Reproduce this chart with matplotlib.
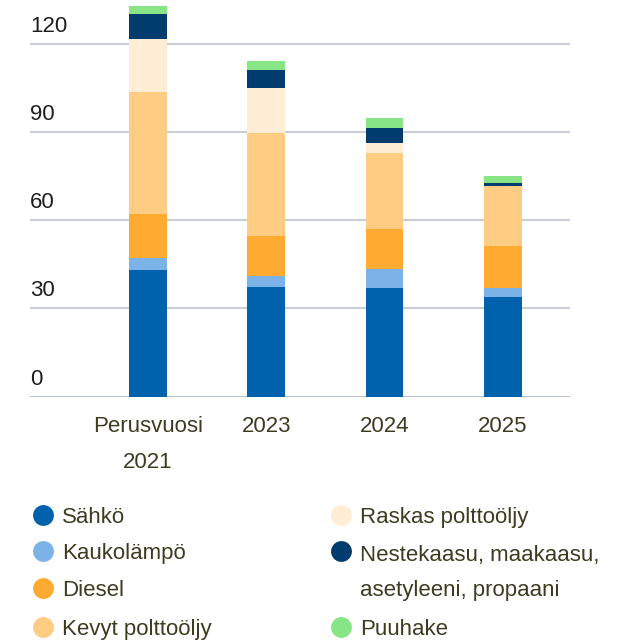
import matplotlib
matplotlib.use("Agg")
import matplotlib.pyplot as plt
from matplotlib.lines import Line2D
from matplotlib.transforms import offset_copy, blended_transform_factory
import numpy as np

plt.rcParams['font.family'] = ['Liberation Sans Narrow', 'Liberation Sans', 'DejaVu Sans']

categories = ["Perusvuosi\n2021", "2023", "2024", "2025"]
series_names = ["Sähkö", "Kaukolämpö", "Diesel", "Kevyt polttoöljy",
                "Raskas polttoöljy", "Nestekaasu, maakaasu,\nasetyleeni, propaani", "Puuhake"]
sahko = [43.0, 37.3, 36.9, 33.9]
kaukolampo = [4.2, 3.7, 6.5, 3.1]
diesel = [14.9, 13.6, 13.6, 14.2]
kevyt = [41.4, 35.0, 25.8, 20.4]
raskas = [18.0, 15.3, 3.4, 0.0]
nestekaasu = [8.5, 6.0, 5.1, 1.0]
puuhake = [2.7, 3.0, 3.4, 2.4]
yticks = [0, 30, 60, 90, 120]

series = [sahko, kaukolampo, diesel, kevyt, raskas, nestekaasu, puuhake]
colors = ["#0062AD", "#7BB3E8", "#FFAA30", "#FFCC84", "#FFEDD5", "#003C6E", "#88E586"]

FS = 16
W, H = 628, 640
fig = plt.figure(figsize=(W / 100, H / 100), dpi=100)
y0_px = 396.7
px_per_unit = 88.3 / 30
ymax = 134
top_px = y0_px - ymax * px_per_unit
ax = fig.add_axes([30 / W, (H - y0_px) / H, 540 / W, (y0_px - top_px) / H])

x = np.arange(len(categories))
bottom = np.zeros(len(categories))
for vals, c in zip(series, colors):
    vals = np.array(vals)
    ax.bar(x, vals, bottom=bottom, width=0.32, color=c, linewidth=0, zorder=3)
    bottom += vals

ax.set_xlim(-1.0, 3.57)
ax.set_ylim(0, ymax)
for s in ax.spines.values():
    s.set_visible(False)
for t in yticks:
    ax.axhline(t, color="#C9CED5" if t else "#B9C1C9", linewidth=1.5, zorder=1)

ax.set_yticks([])
trans = offset_copy(blended_transform_factory(ax.transAxes, ax.transData), fig=fig, x=0, y=12 * 0.72, units='points')
for t in yticks:
    ax.text(0, t, str(t), transform=trans, ha='left', va='baseline', fontsize=FS, color="#1E1E1E")

ax.set_xticks(x)
ax.set_xticklabels(categories, fontsize=FS, color="#3C3C22", linespacing=1.95)
ax.tick_params(axis='x', length=0, pad=14)

# legend
col_x = [42.5, 341]
rows_y = [[515, 551, 588, 627], [515, 551, 627]]
line_gap = 37
idx = 0
for ci, ys in enumerate(rows_y):
    for yy in ys:
        fx, fy = col_x[ci] / W, 1 - yy / H
        fig.add_artist(Line2D([fx], [fy], marker='o', markersize=15, color=colors[idx],
                              markeredgewidth=0, transform=fig.transFigure))
        nlines = series_names[idx].count("\n") + 1
        ty = 1 - (yy + 8 + (nlines - 1) * line_gap) / H
        fig.text(fx + 19.5 / W, ty, series_names[idx], ha='left', va='baseline',
                 fontsize=FS, color="#3C3C22", linespacing=1.9)
        idx += 1

fig.savefig("out.png", dpi=100)
